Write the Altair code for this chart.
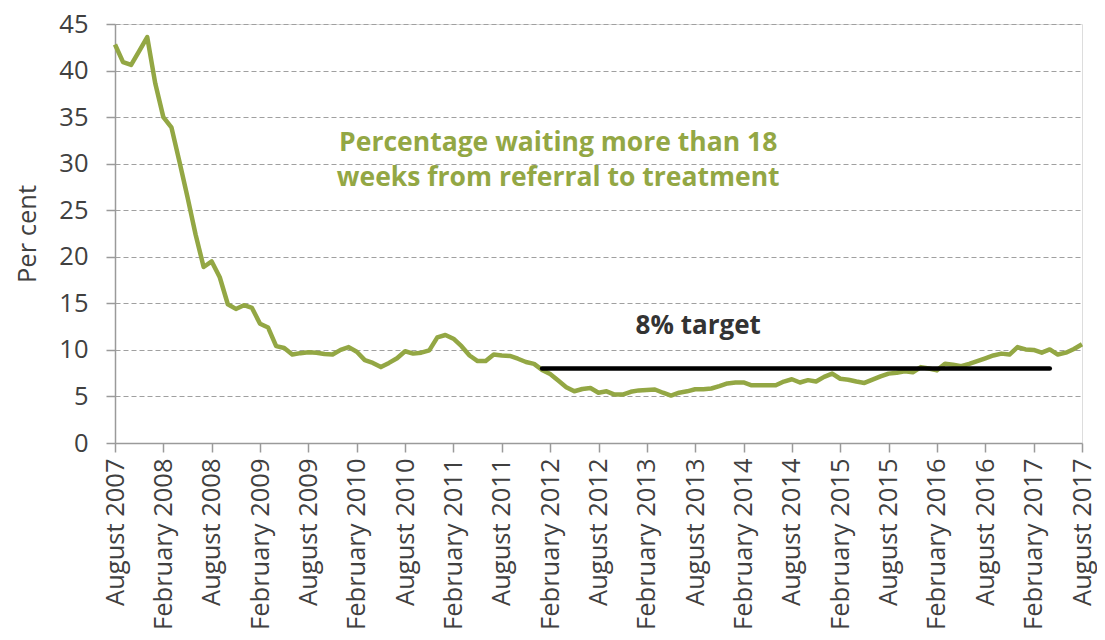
import altair as alt
import pandas as pd

# Monthly percentage waiting more than 18 weeks, August 2007 .. August 2017
values = [
    42.8, 40.9, 40.6, 42.1, 43.6,                                          # 2007 Aug-Dec
    38.6, 35.0, 33.9, 30.2, 26.4, 22.4, 18.9, 19.5, 17.8, 14.9, 14.4, 14.8,  # 2008
    14.5, 12.8, 12.4, 10.4, 10.2, 9.5, 9.65, 9.75, 9.7, 9.55, 9.5, 10.0,     # 2009
    10.3, 9.8, 8.9, 8.6, 8.15, 8.6, 9.1, 9.85, 9.6, 9.7, 9.95, 11.35,        # 2010
    11.6, 11.2, 10.4, 9.4, 8.8, 8.8, 9.5, 9.4, 9.35, 9.05, 8.7, 8.5,         # 2011
    7.85, 7.4, 6.7, 6.0, 5.56, 5.8, 5.9, 5.4, 5.55, 5.2, 5.2, 5.5,           # 2012
    5.65, 5.7, 5.75, 5.4, 5.1, 5.4, 5.55, 5.77, 5.77, 5.85, 6.1, 6.4,        # 2013
    6.5, 6.5, 6.2, 6.2, 6.2, 6.2, 6.6, 6.85, 6.5, 6.75, 6.6, 7.1,            # 2014
    7.45, 6.9, 6.8, 6.6, 6.45, 6.8, 7.15, 7.45, 7.55, 7.7, 7.6, 8.15,        # 2015
    8.0, 7.8, 8.5, 8.4, 8.25, 8.5, 8.8, 9.1, 9.4, 9.6, 9.5, 10.3,            # 2016
    10.05, 10.0, 9.7, 10.05, 9.5, 9.7, 10.1, 10.6,                           # 2017 Jan-Aug
]

month_names = ["January", "February", "March", "April", "May", "June", "July",
               "August", "September", "October", "November", "December"]
start_year, start_month = 2007, 8
months = [f"{month_names[(start_month - 1 + i) % 12]} {start_year + (start_month - 1 + i) // 12}"
          for i in range(len(values))]

tick_labels = [
    "August 2007", "February 2008", "August 2008", "February 2009", "August 2009",
    "February 2010", "August 2010", "February 2011", "August 2011", "February 2012",
    "August 2012", "February 2013", "August 2013", "February 2014", "August 2014",
    "February 2015", "August 2015", "February 2016", "August 2016", "February 2017",
    "August 2017",
]

target_value = 8
target_start = "January 2012"
target_end = "April 2017"

series_label = "Percentage waiting more than 18\nweeks from referral to treatment"
series_label_pos = ("March 2012", 32.2)
target_label = "8% target"
target_label_pos = ("August 2013", 12.6)

FONT = "Open Sans"
GREEN = "#93A744"
TEXT = "#404040"
AXIS = "#9a9a9a"

df = pd.DataFrame({"idx": list(range(len(values))), "month": months, "value": values})
tick_idx = [months.index(t) for t in tick_labels]
label_expr = "[" + ",".join(f"'{t}'" for t in tick_labels) + "][indexof([" + \
    ",".join(str(i) for i in tick_idx) + "], datum.value)]"

x_scale = alt.Scale(domain=[0, len(values) - 1], nice=False, zero=False)
y_scale = alt.Scale(domain=[0, 45], nice=False)

base = alt.Chart(df)

line = base.mark_line(color=GREEN, strokeWidth=4.5, strokeJoin="round").encode(
    x=alt.X("idx:Q", scale=x_scale,
            axis=alt.Axis(values=tick_idx, labelExpr=label_expr, labelAngle=-90,
                          labelAlign="right", labelBaseline="middle",
                          title=None, grid=False, tickSize=9, labelPadding=6,
                          labelFontSize=25.5, labelColor=TEXT, labelFont=FONT,
                          domainColor=AXIS, tickColor=AXIS, labelOverlap=False,
                          labelFlush=False, domainWidth=1.5, tickWidth=1.5)),
    y=alt.Y("value:Q", scale=y_scale,
            axis=alt.Axis(values=list(range(0, 46, 5)), title="Per cent",
                          titleFont=FONT, titleFontSize=25.5, titleFontWeight="normal",
                          titleColor=TEXT, titleX=-88, titleBaseline="middle",
                          labelFont=FONT, labelFontSize=25.5, labelColor=TEXT,
                          tickSize=9, labelPadding=18, grid=True,
                          gridDash=[5, 3], gridColor="#a0a0a0", gridWidth=1.2,
                          domainColor=AXIS, tickColor=AXIS, domainWidth=1.5,
                          tickWidth=1.5)),
)

target_df = pd.DataFrame({
    "x": [months.index(target_start)],
    "x2": [months.index(target_end)],
    "y": [target_value],
})
target = alt.Chart(target_df).mark_rule(color="black", strokeWidth=4.5, strokeCap="round").encode(
    x=alt.X("x:Q", scale=x_scale), x2="x2:Q", y=alt.Y("y:Q", scale=y_scale)
)

ann_df = pd.DataFrame({
    "x": [months.index(series_label_pos[0])],
    "y": [series_label_pos[1]],
    "text": [series_label],
})
ann = alt.Chart(ann_df).mark_text(
    font=FONT, fontSize=26.5, fontWeight="bold", color=GREEN, align="center",
    baseline="middle", lineBreak="\n", lineHeight=35,
).encode(x=alt.X("x:Q", scale=x_scale), y=alt.Y("y:Q", scale=y_scale), text="text:N")

tgt_df = pd.DataFrame({
    "x": [months.index(target_label_pos[0])],
    "y": [target_label_pos[1]],
    "text": [target_label],
})
tgt = alt.Chart(tgt_df).mark_text(
    font=FONT, fontSize=26, fontWeight="bold", color="#333333", align="center",
    baseline="middle", dx=3,
).encode(x=alt.X("x:Q", scale=x_scale), y=alt.Y("y:Q", scale=y_scale), text="text:N")

chart = alt.layer(line, target, ann, tgt).properties(
    width=967, height=419,
    autosize=alt.AutoSizeParams(type="none"),
    padding={"left": 107, "top": 16, "right": 15, "bottom": 189},
).configure_view(stroke=None).configure(background="white")

chart.save("out.html", embed_options={"renderer": "svg", "actions": False})
